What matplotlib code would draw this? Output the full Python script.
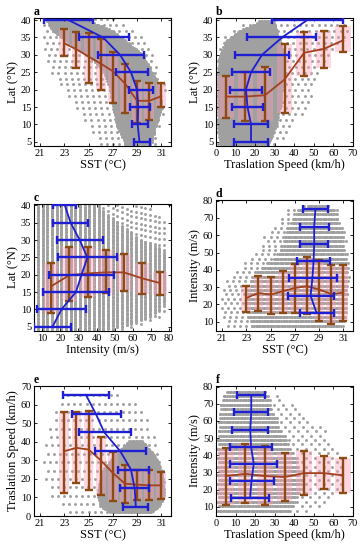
import numpy as np
import matplotlib
matplotlib.use("Agg")
import matplotlib.pyplot as plt
from matplotlib.patches import Rectangle

plt.rcParams['font.family'] = ['Liberation Serif', 'DejaVu Serif']

# bins
sst_bins = [23, 24, 25, 26, 27, 28, 29, 30, 31]
lat_bins = [5, 10, 15, 20, 25, 30, 35, 40]
spd_bins = [5, 15, 25, 35, 45, 55, 65]
int_bins = [15, 25, 35, 45, 55, 65, 75]

# a: Lat vs SST
a_red_mean = [33.3, 31.6, 29.5, 27.5, 25.3, 21.8, 16.8, 16.8, 18.1]
a_red_top = [37.4, 36.5, 36.2, 34.5, 30.9, 27.3, 22.5, 21.8, 21.8]
a_red_bot = [29.8, 26.2, 21.8, 19.9, 16.3, 13.2, 10.3, 11.4, 15.1]
a_blue_mean = [29.2, 29.05, 29.1, 29.0, 28.5, 27.6, 26.2, 23.35]
a_blue_lo = [28.75, 28.6, 28.4, 28.3, 27.3, 25.8, 24.2, 21.3]
a_blue_hi = [30.05, 29.9, 30.1, 30.3, 29.9, 29.6, 28.3, 25.4]

# b: Lat vs translation speed
b_red_mean = [18.0, 18.0, 18.4, 22.9, 30.6, 31.7, 34.2]
b_red_top = [24.0, 25.0, 26.4, 33.0, 36.7, 36.9, 38.4]
b_red_bot = [11.9, 11.1, 10.9, 13.3, 24.0, 26.3, 30.8]
b_blue_mean = [17.9, 17.9, 16.1, 15.3, 17.9, 23.5, 33.7, 46.6]
b_blue_lo = [9.2, 9.3, 8.3, 7.1, 8.4, 9.7, 15.9, 28.5]
b_blue_hi = [26.6, 26.6, 24.0, 23.5, 27.4, 37.3, 51.3, 64.7]

# c: Lat vs intensity
c_red_mean = [16.7, 19.9, 20.4, 20.7, 20.7, 19.0, 17.6]
c_red_top = [23.5, 27.9, 27.9, 27.1, 26.1, 23.4, 20.9]
c_red_bot = [9.1, 12.4, 13.5, 14.8, 15.3, 14.4, 14.1]
c_blue_mean = [15.7, 20.6, 28.6, 31.7, 34.9, 30.7, 25.7, 22.5]
c_blue_lo = [5.4, 7.2, 10.4, 13.7, 18.7, 17.9, 16.1, 16.1]
c_blue_hi = [26.0, 33.9, 46.8, 49.6, 51.1, 43.5, 35.2, 28.8]

# d: Intensity vs SST
d_red_mean = [23.7, 26.6, 25.7, 27.6, 29.5, 30.5, 28.6, 26.0, 26.8]
d_red_top = [30.5, 36.6, 35.7, 39.5, 43.4, 47.4, 45.9, 42.6, 42.6]
d_red_bot = [15.5, 16.0, 14.7, 15.1, 15.1, 14.7, 10.6, 8.7, 10.6]
d_blue_mean = [28.8, 28.3, 28.45, 28.55, 28.6, 28.6, 28.7]
d_blue_lo = [27.45, 26.4, 26.5, 27.2, 27.4, 27.45, 27.7]
d_blue_hi = [30.2, 30.2, 30.5, 29.9, 29.75, 29.8, 29.75]

# e: Translation speed vs SST
e_red_mean = [34.9, 36.7, 35.8, 30.0, 23.2, 17.4, 16.9, 16.5, 16.5]
e_red_top = [55.8, 55.8, 56.7, 42.3, 34.5, 27.3, 25.0, 25.0, 23.7]
e_red_bot = [12.4, 17.8, 14.2, 11.5, 8.1, 7.0, 8.5, 8.8, 9.4]
e_blue_mean = [28.9, 28.8, 28.5, 27.6, 26.3, 25.6, 24.8]
e_blue_lo = [27.8, 27.6, 27.4, 25.5, 24.2, 23.6, 22.9]
e_blue_hi = [29.9, 30.0, 30.0, 29.7, 28.5, 27.7, 26.7]

# f: Intensity vs translation speed
f_red_mean = [27.9, 29.2, 27.9, 27.3, 29.6, 29.6, 28.3]
f_red_top = [44.0, 46.5, 45.2, 41.3, 42.3, 39.8, 38.3]
f_red_bot = [11.0, 11.9, 10.8, 13.3, 16.7, 20.6, 18.1]
f_blue_mean = [17.4, 18.1, 19.3, 17.9, 17.5, 18.0, 18.0]
f_blue_lo = [7.8, 6.9, 6.9, 6.9, 8.3, 9.2, 10.9]
f_blue_hi = [27.1, 29.4, 31.1, 28.8, 26.8, 26.8, 25.0]

# outlines of the grey point clouds
a_rows = [4.5, 10, 15, 20, 25, 30, 33, 37, 40]
a_lo = [28, 27.3, 27, 26.8, 26.3, 25, 23.5, 22, 21.5]
a_hi = [30.2, 30.6, 31, 30.9, 30.3, 29.5, 28.5, 27, 25]
a_slo = [26, 25, 24, 23, 22, 21.5, 21.3, 21.3, 21.3]
a_shi = [30.6, 31, 31.3, 31.3, 31, 30.5, 30, 29, 27.5]

b_rows = [4.5, 10, 15, 20, 25, 30, 34, 37, 39.5]
b_lo = [2, 1, 1, 1, 1, 2, 5, 12, 22]
b_hi = [27, 31, 33, 34, 35, 35, 33, 31, 30]
b_slo = [1, 0.5, 0.5, 0.5, 0.5, 1, 3, 8, 18]
b_shi = [32, 40, 48, 50, 55, 60, 66, 68, 68]

c_cols = [7, 30, 40, 45, 50, 55, 60, 65, 70, 75, 78]
c_lo = [4, 4, 4, 4, 4.5, 5, 6, 7, 8, 10, 12]
c_hi = [40.3, 40.3, 40, 38, 36, 34, 32, 30, 29, 28, 26]
c_slo = [4, 4, 4, 4, 4, 4.5, 5, 6, 7, 8, 9]
c_shi = [40.3, 40.3, 40.3, 40.3, 40.3, 40.3, 40, 40, 39, 38, 36]

d_rows = [7.7, 15, 25, 35, 40, 45, 50, 55, 60, 65, 70, 75, 77.2]
d_lo = [23.5, 23, 23, 23.5, 24, 25, 25.7, 26, 26.2, 26.5, 26.9, 27.3, 28]
d_hi = [30.8, 31.2, 31.3, 31.3, 31.3, 31.3, 31.2, 31.1, 31, 30.8, 30.6, 30.3, 29.8]
d_slo = [21.5, 21, 21, 21.5, 22.5, 23, 24, 24.5, 24.5, 25.5, 26, 26.5, 27.5]
d_shi = [31.0, 31.4, 31.5, 31.5, 31.5, 31.5, 31.4, 31.3, 31.2, 31.0, 30.8, 30.5, 30.0]

e_rows = [2, 5, 10, 15, 20, 25, 30, 35, 40]
e_lo = [26.8, 26, 25.8, 25.8, 26, 26.2, 26.8, 27.5, 28.3]
e_hi = [30.2, 30.8, 31.2, 31.2, 31.2, 31, 30.7, 30.2, 29.5]
e_srows = [2, 10, 20, 30, 40, 50, 60, 66]
e_slo = [23.5, 22, 21.5, 21.3, 21.5, 22, 22.5, 23.5]
e_shi = [30.5, 31.3, 31.4, 31.2, 30.8, 30, 29, 27.5]

f_rows = [7.7, 15, 25, 35, 45, 55, 65, 72, 77.2]
f_lo = [1, 1, 1, 1, 1, 1.5, 2, 3, 5]
f_hi = [38, 42, 44, 42, 38, 33, 29, 27, 25]
f_shi = [50, 60, 66, 66, 62, 55, 45, 35, 28]

# intensity is stored in 5 kt steps
kt_levels = np.arange(15, 155, 5) * 0.5144

GREY = '#a0a0a0'
BROWN = '#8c4a14'
RED = '#a3401e'
BLUE = '#1e1ed2'
PINK = '#ff9db4'


def cloud(ax, env, lo, hi, rows, step, flip=False, size=4.5):
    # fill the outline (env, lo, hi) with points, one line of points per row
    xs, ys = [], []
    for i, r in enumerate(rows):
        a = np.interp(r, env, lo)
        b = np.interp(r, env, hi)
        off = step * 0.5 * (i % 2)
        pts = np.arange(a + off, b, step)
        xs.extend(pts)
        ys.extend([r] * len(pts))
    if flip:
        xs, ys = ys, xs
    ax.scatter(xs, ys, s=size, color=GREY, linewidths=0, zorder=1)


def red_bars(ax, x, mean, top, bot, w):
    mean = np.array(mean)
    err = [mean - np.array(bot), np.array(top) - mean]
    for xi, t, b in zip(x, top, bot):
        ax.add_patch(Rectangle((xi - w / 2, b), w, t - b, facecolor=PINK,
                               edgecolor='none', alpha=0.4, zorder=2))
    ax.errorbar(x, mean, yerr=err, fmt='none', ecolor=BROWN, elinewidth=1.7,
                capsize=3, capthick=1.7, zorder=3)
    ax.plot(x, mean, color=RED, lw=1.3, zorder=4)


def blue_bars(ax, y, mean, lo, hi):
    mean = np.array(mean)
    err = [mean - np.array(lo), np.array(hi) - mean]
    ax.errorbar(mean, y, xerr=err, fmt='none', ecolor=BLUE, elinewidth=1.7,
                capsize=3, capthick=1.7, zorder=5)
    ax.plot(mean, y, color=BLUE, lw=1.3, zorder=6)


def style(ax, letter, xlim, ylim, xticks, yticks, xlabel, ylabel):
    ax.set_xlim(xlim)
    ax.set_ylim(ylim)
    ax.set_xticks(xticks)
    ax.set_yticks(yticks)
    ax.tick_params(direction='in', length=2.5, width=0.6, top=True, right=True,
                   pad=2, labelsize=7.5)
    for sp in ax.spines.values():
        sp.set_linewidth(0.8)
    ax.set_xlabel(xlabel, fontsize=9, labelpad=1)
    ax.set_ylabel(ylabel, fontsize=9, labelpad=1)
    ax.text(0.0, 1.0, letter, transform=ax.transAxes, ha='left', va='bottom',
            fontsize=8.5, fontweight='bold')


fig = plt.figure(figsize=(3.63, 5.5), dpi=100)
W, H = 363.0, 550.0


def axes_px(left, top, right, bottom):
    return fig.add_axes([left / W, 1 - bottom / H, (right - left) / W, (bottom - top) / H])


ax_a = axes_px(34, 18, 171, 146)
ax_b = axes_px(216, 18, 353, 146)
ax_c = axes_px(34, 204, 171, 331)
ax_d = axes_px(216, 200, 353, 331)
ax_e = axes_px(34, 386, 171, 516)
ax_f = axes_px(216, 386, 353, 516)

sst_ticks = [21, 23, 25, 27, 29, 31]
lat_ticks = [5, 10, 15, 20, 25, 30, 35, 40]

# a
cloud(ax_a, a_rows, a_slo, a_shi, np.arange(4.5, 40.4, 1.7), 0.5)
cloud(ax_a, a_rows, a_lo, a_hi, np.arange(4.5, 40.4, 0.45), 0.13)
red_bars(ax_a, sst_bins, a_red_mean, a_red_top, a_red_bot, 0.8)
blue_bars(ax_a, lat_bins, a_blue_mean, a_blue_lo, a_blue_hi)
style(ax_a, 'a', (20.5, 31.8), (3.8, 40.6), sst_ticks, lat_ticks, 'SST (°C)', 'Lat (°N)')

# b
cloud(ax_b, b_rows, b_slo, b_shi, np.arange(4.5, 40.0, 1.7), 3.2)
cloud(ax_b, b_rows, b_lo, b_hi, np.arange(4.5, 40.0, 0.45), 0.8)
red_bars(ax_b, spd_bins, b_red_mean, b_red_top, b_red_bot, 8)
blue_bars(ax_b, lat_bins, b_blue_mean, b_blue_lo, b_blue_hi)
style(ax_b, 'b', (0, 70), (3.8, 40.6), range(0, 71, 10), lat_ticks,
      'Traslation Speed (km/h)', 'Lat (°N)')

# c (vertical stripes of intensity)
cloud(ax_c, c_cols, c_slo, c_shi, kt_levels, 1.6, flip=True)
cloud(ax_c, c_cols, c_lo, c_hi, kt_levels, 0.4, flip=True)
red_bars(ax_c, int_bins, c_red_mean, c_red_top, c_red_bot, 8)
blue_bars(ax_c, lat_bins, c_blue_mean, c_blue_lo, c_blue_hi)
style(ax_c, 'c', (5.5, 81), (3.8, 40.4), range(10, 81, 10), lat_ticks,
      'Intensity (m/s)', 'Lat (°N)')

# d (horizontal stripes of intensity)
cloud(ax_d, d_rows, d_slo, d_shi, kt_levels, 0.5)
cloud(ax_d, d_rows, d_lo, d_hi, kt_levels, 0.13)
red_bars(ax_d, sst_bins, d_red_mean, d_red_top, d_red_bot, 0.8)
blue_bars(ax_d, int_bins, d_blue_mean, d_blue_lo, d_blue_hi)
style(ax_d, 'd', (20.5, 31.8), (4.6, 80.4), sst_ticks, range(10, 81, 10),
      'SST (°C)', 'Intensity (m/s)')

# e
cloud(ax_e, e_srows, e_slo, e_shi, np.arange(2, 66, 4.5), 0.5)
cloud(ax_e, e_rows, e_lo, e_hi, np.arange(2, 40.5, 0.85), 0.13)
red_bars(ax_e, sst_bins, e_red_mean, e_red_top, e_red_bot, 0.8)
blue_bars(ax_e, spd_bins, e_blue_mean, e_blue_lo, e_blue_hi)
style(ax_e, 'e', (20.5, 31.8), (0, 70), sst_ticks, range(0, 71, 10),
      'SST (°C)', 'Traslation Speed (km/h)')

# f
cloud(ax_f, f_rows, f_lo, f_shi, kt_levels, 4.5)
cloud(ax_f, f_rows, f_lo, f_hi, kt_levels, 0.8)
red_bars(ax_f, spd_bins, f_red_mean, f_red_top, f_red_bot, 8)
blue_bars(ax_f, int_bins, f_blue_mean, f_blue_lo, f_blue_hi)
style(ax_f, 'f', (0, 70), (4.6, 80.4), range(0, 71, 10), range(10, 81, 10),
      'Traslation Speed (km/h)', 'Intensity (m/s)')

fig.savefig('out.png', dpi=100)
